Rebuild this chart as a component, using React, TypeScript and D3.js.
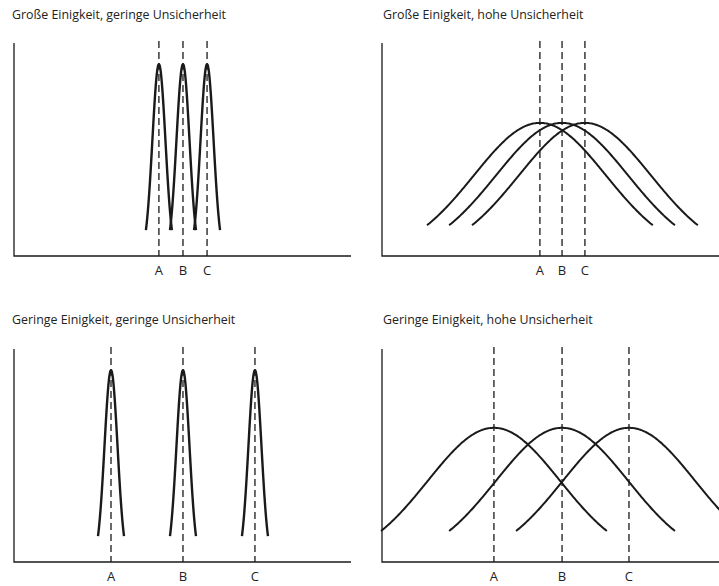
import * as d3 from "d3";

// Panel titles
const titles = [
  "Große Einigkeit, geringe Unsicherheit",
  "Große Einigkeit, hohe Unsicherheit",
  "Geringe Einigkeit, geringe Unsicherheit",
  "Geringe Einigkeit, hohe Unsicherheit",
];

// Category labels under the x-axis
const labels = ["A", "B", "C"];

// Position of each estimate on the x-axis (units 0..14)
const means1 = [6.02, 7.02, 8.02];
const means2 = [6.56, 7.48, 8.43];
const means3 = [4.03, 7.02, 10.01];
const means4 = [4.65, 7.48, 10.26];

// spread of each curve (sigma) and where it is cut off (half width)
const sigmas = [0.27, 2.74, 0.27, 2.74];
const halfWidths = [0.54, 4.69, 0.54, 4.69];
const peaks = [0.9, 0.625, 0.9, 0.63];

const meansByPanel = [means1, means2, means3, means4];

const W = 719;
const H = 586;

// panel frames (axis origin and extents)
const frames = [
  { x0: 14, x1: 351, yTop: 43, yBase: 256, titleX: 12, titleY: 19, labelY: 275 },
  { x0: 382, x1: 719, yTop: 43, yBase: 256, titleX: 383, titleY: 19, labelY: 275 },
  { x0: 14, x1: 351, yTop: 349, yBase: 562, titleX: 12, titleY: 324, labelY: 581 },
  { x0: 382, x1: 719, yTop: 349, yBase: 562, titleX: 383, titleY: 324, labelY: 581 },
];

const gauss = (x: number, mu: number, s: number, peak: number) =>
  peak * Math.exp(-((x - mu) * (x - mu)) / (2 * s * s));

const Panel = ({ i }: { i: number }) => {
  const f = frames[i];
  const x = d3.scaleLinear().domain([0, 14]).range([f.x0, f.x1]);
  const y = d3.scaleLinear().domain([0, 1]).range([f.yBase, f.yTop]);
  const means = meansByPanel[i];
  const s = sigmas[i];
  const hw = halfWidths[i];

  const curve = (mu: number) => {
    const pts = d3.range(mu - hw, mu + hw + 1e-9, (2 * hw) / 200);
    return d3
      .line<number>()
      .x((d) => x(d))
      .y((d) => y(gauss(d, mu, s, peaks[i])))(pts);
  };

  return (
    <g>
      <text x={f.titleX} y={f.titleY} fontSize={12.4} fill="#222">
        {titles[i]}
      </text>
      {/* axes */}
      <path
        d={`M${x(0)},${y(1)}V${y(0)}H${x(14)}`}
        fill="none"
        stroke="#1a1a1a"
        strokeWidth={1.3}
      />
      {/* dashed reference lines */}
      {means.map((m, k) => (
        <line
          key={"d" + k}
          x1={x(m)}
          x2={x(m)}
          y1={y(1) - 2}
          y2={y(0)}
          stroke="#1a1a1a"
          strokeWidth={1.3}
          strokeDasharray="7,4"
        />
      ))}
      {means.map((m, k) => (
        <path
          key={"c" + k}
          d={curve(m) || ""}
          fill="none"
          stroke="#1a1a1a"
          strokeWidth={i % 2 === 0 ? 2.4 : 2}
        />
      ))}
      {means.map((m, k) => (
        <text
          key={"l" + k}
          x={x(m)}
          y={f.labelY}
          fontSize={13}
          textAnchor="middle"
          fill="#222"
        >
          {labels[k]}
        </text>
      ))}
    </g>
  );
};

export default function App() {
  return (
    <svg
      width={W}
      height={H}
      style={{ position: "absolute", left: 0, top: 0, fontFamily: "'Open Sans', sans-serif" }}
    >
      <rect width={W} height={H} fill="#fff" />
      {titles.map((_, i) => (
        <Panel key={i} i={i} />
      ))}
    </svg>
  );
}
